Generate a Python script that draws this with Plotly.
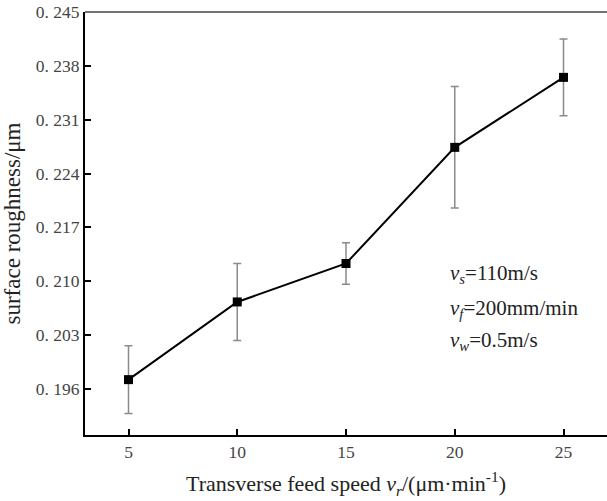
import plotly.graph_objects as go

feed_speed = [5, 10, 15, 20, 25]
roughness = [0.1972, 0.2073, 0.2123, 0.2274, 0.2365]
roughness_err = [0.0044, 0.0050, 0.0027, 0.0079, 0.0050]

y_tickvals = [0.196, 0.203, 0.210, 0.217, 0.224, 0.231, 0.238, 0.245]
y_ticktext = ["0. 196", "0. 203", "0. 210", "0. 217", "0. 224", "0. 231", "0. 238", "0. 245"]
x_tickvals = [5, 10, 15, 20, 25]

conditions = [
    "<i>v</i><sub><i>s</i></sub>=110m/s",
    "<i>v</i><sub><i>f</i></sub>=200mm/min",
    "<i>v</i><sub><i>w</i></sub>=0.5m/s",
]

FONT = "Liberation Serif"

fig = go.Figure()
fig.add_trace(go.Scatter(
    x=feed_speed, y=roughness,
    mode="lines+markers",
    line=dict(color="black", width=2),
    marker=dict(symbol="square", size=9, color="black"),
    error_y=dict(type="data", array=roughness_err, visible=True,
                 color="#8a8a8a", thickness=1.5, width=4),
    showlegend=False,
))

fig.update_layout(
    width=607, height=501,
    margin=dict(l=85, r=0, t=12, b=66),
    paper_bgcolor="white", plot_bgcolor="white",
    font=dict(family=FONT, color="#333"),
    xaxis=dict(
        range=[3, 27], tickvals=x_tickvals,
        showgrid=False, zeroline=False,
        showline=True, linecolor="black", linewidth=2,
        ticks="inside", ticklen=6, tickwidth=2, tickcolor="black",
        tickfont=dict(family=FONT, size=17.5, color="#444"),
        title=dict(text="Transverse feed speed <i>v</i><sub><i>r</i></sub>/(μm·min<sup>-1</sup>)",
                   font=dict(family=FONT, size=22, color="#222"), standoff=15),
    ),
    yaxis=dict(
        range=[0.19, 0.245], tickvals=y_tickvals, ticktext=y_ticktext,
        showgrid=False, zeroline=False,
        showline=True, linecolor="black", linewidth=2,
        ticks="inside", ticklen=6, tickwidth=2, tickcolor="black",
        tickfont=dict(family=FONT, size=17.5, color="#444"),
        title=dict(text="surface roughness/μm",
                   font=dict(family=FONT, size=23, color="#222"), standoff=11),
    ),
    shapes=[dict(type="line", xref="paper", yref="paper", x0=0, x1=1, y0=1, y1=1,
                 line=dict(color="#444", width=1.5))],
)

ann_y = [0.3806, 0.2979, 0.2222]
for txt, yy in zip(conditions, ann_y):
    fig.add_annotation(text=txt, xref="paper", yref="paper", x=0.695, y=yy,
                       xanchor="left", yanchor="middle", showarrow=False,
                       font=dict(family=FONT, size=21, color="#222"))

fig.write_html("out.html")
